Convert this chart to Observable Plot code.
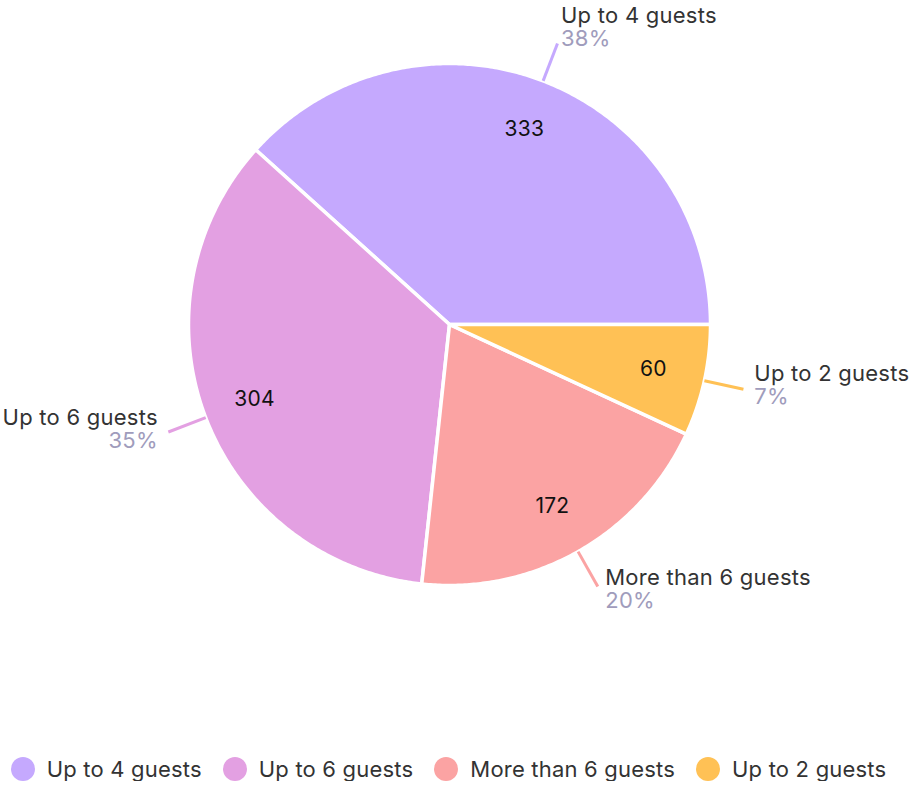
<!DOCTYPE html>
<html><head><meta charset="utf-8">
<script src="https://cdn.jsdelivr.net/npm/d3@7"></script>
<script src="https://cdn.jsdelivr.net/npm/@observablehq/plot@0.6"></script>
<style>
body{margin:0;background:#fff;font-family:Inter,"Noto Sans",sans-serif;}
svg text{letter-spacing:0.25px;}
#legend{display:flex;justify-content:center;align-items:center;height:24px;margin-top:12px;padding-right:14px;font-size:22px;color:#333;letter-spacing:0.2px;}
.item{display:flex;align-items:center;margin:0 10.5px;white-space:nowrap;}
.sw{width:24px;height:24px;border-radius:50%;margin-right:12px;}
</style></head><body>
<div id="chart"></div><div id="legend"></div>
<script>
const categories = ["Up to 4 guests", "Up to 6 guests", "More than 6 guests", "Up to 2 guests"];
const values = [333, 304, 172, 60];
const colors = ["#c5a9fe", "#e3a0e2", "#fba3a3", "#ffc155"];

const R = 261, R2 = 301;
const total = d3.sum(values);
let acc = 0;
const slices = categories.map((name, i) => {
  const a0 = acc / total * 2 * Math.PI; acc += values[i];
  const a1 = acc / total * 2 * Math.PI;
  const mid = (a0 + a1) / 2;
  return {name, value: values[i], pct: Math.round(values[i] / total * 100) + "%", a0, a1, mid,
    cos: Math.cos(mid), sin: Math.sin(mid)};
});
// polygon outline of each slice (geometry derived from data angles)
const outline = [];
for (const s of slices) {
  outline.push({name: s.name, x: 0, y: 0});
  const n = Math.max(2, Math.ceil((s.a1 - s.a0) / (Math.PI / 360)));
  for (let k = 0; k <= n; k++) {
    const a = s.a0 + (s.a1 - s.a0) * k / n;
    outline.push({name: s.name, x: R * Math.cos(a), y: R * Math.sin(a)});
  }
}
for (const s of slices) {
  s.ex = R2 * s.cos; s.ey = R2 * s.sin;
  const yc = s.ey + 7.4 + 10.8 * s.sin;
  s.tx = s.ex + Math.sign(s.cos) * (4 + 7 * Math.abs(s.cos)) - (s.sin > 0.8 ? 3 : 0);
  s.ny = yc + 10.5; s.py = yc - 13;
  s.lx = 0.8 * R * s.cos; s.ly = 0.8 * R * s.sin;
}
const right = slices.filter(s => s.cos >= 0), left = slices.filter(s => s.cos < 0);

const chart = Plot.plot({
  width: 911, height: 745, margin: 0,
  style: {fontFamily: "Inter, 'Noto Sans', sans-serif", background: "white"},
  x: {domain: [-449, 462], axis: null},
  y: {domain: [-421, 324], axis: null},
  color: {domain: categories, range: colors},
  marks: [
    Plot.line(outline, {x: "x", y: "y", z: "name", fill: "name", stroke: "white", strokeWidth: 3.5, strokeLinejoin: "round", curve: "linear-closed"}),
    Plot.link(slices, {x1: d => R * d.cos, y1: d => R * d.sin, x2: "ex", y2: "ey", stroke: "name", strokeWidth: 3}),
    Plot.text(slices, {x: "lx", y: "ly", text: d => String(d.value), fontSize: 21, fill: "#111"}),
    Plot.text(right, {x: "tx", y: "ny", text: "name", textAnchor: "start", fontSize: 22, fill: "#333"}),
    Plot.text(right, {x: "tx", y: "py", text: "pct", textAnchor: "start", fontSize: 22, fill: "#a09cbc"}),
    Plot.text(left, {x: "tx", y: "ny", text: "name", textAnchor: "end", fontSize: 22, fill: "#333"}),
    Plot.text(left, {x: "tx", y: "py", text: "pct", textAnchor: "end", fontSize: 22, fill: "#a09cbc"})
  ]
});
document.getElementById("chart").appendChild(chart);
const lg = document.getElementById("legend");
categories.forEach((c, i) => {
  const it = document.createElement("div"); it.className = "item";
  const sw = document.createElement("div"); sw.className = "sw"; sw.style.background = colors[i];
  const t = document.createElement("span"); t.textContent = c;
  it.appendChild(sw); it.appendChild(t); lg.appendChild(it);
});
</script></body></html>
